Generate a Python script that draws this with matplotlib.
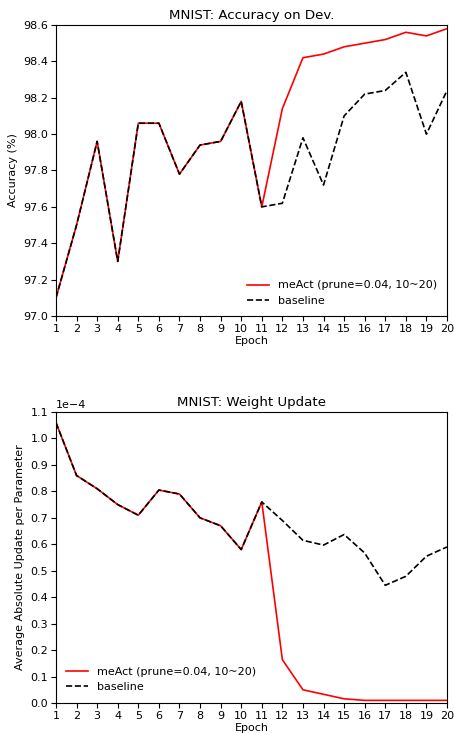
import matplotlib
matplotlib.use('Agg')
import matplotlib.pyplot as plt

epochs = list(range(1, 21))

# accuracy on dev (%)
acc_meact = [97.1, 97.5, 97.96, 97.3, 98.06, 98.06, 97.78, 97.94, 97.96, 98.18, 97.6,
             98.14, 98.42, 98.44, 98.48, 98.5, 98.52, 98.56, 98.54, 98.58]
acc_base = [97.1, 97.5, 97.96, 97.3, 98.06, 98.06, 97.78, 97.94, 97.96, 98.18, 97.6,
            97.62, 97.98, 97.72, 98.1, 98.22, 98.24, 98.34, 98.0, 98.24]

# weight update (x1e-4)
upd_meact = [1.06, 0.86, 0.81, 0.75, 0.71, 0.805, 0.79, 0.70, 0.67, 0.58, 0.76,
             0.164, 0.05, 0.033, 0.016, 0.01, 0.01, 0.01, 0.01, 0.01]
upd_base = [1.06, 0.86, 0.81, 0.75, 0.71, 0.805, 0.79, 0.70, 0.67, 0.58, 0.76,
            0.69, 0.615, 0.597, 0.637, 0.567, 0.445, 0.479, 0.555, 0.59]
upd_meact = [v * 1e-4 for v in upd_meact]
upd_base = [v * 1e-4 for v in upd_base]

label_meact = 'meAct (prune=0.04, 10~20)'
label_base = 'baseline'

plt.rcParams['font.size'] = 8

fig = plt.figure(figsize=(4.54, 7.33), dpi=100)
ax1 = fig.add_axes([0.1233, 0.5689, 0.8613, 0.397])
ax2 = fig.add_axes([0.1233, 0.0409, 0.8613, 0.397])

ax1.plot(epochs, acc_meact, color='red', lw=1.2, label=label_meact)
ax1.plot(epochs, acc_base, color='black', lw=1.2, ls='--', label=label_base)
ax1.set_xlim(1, 20)
ax1.set_ylim(97.0, 98.6)
ax1.set_xticks(epochs)
ax1.set_yticks([97.0, 97.2, 97.4, 97.6, 97.8, 98.0, 98.2, 98.4, 98.6])
ax1.set_xlabel('Epoch', labelpad=2)
ax1.set_ylabel('Accuracy (%)')
ax1.set_title('MNIST: Accuracy on Dev.', pad=4)
ax1.legend(loc='lower right', frameon=False, bbox_to_anchor=(1.0, 0.0))

ax2.plot(epochs, upd_meact, color='red', lw=1.2, label=label_meact)
ax2.plot(epochs, upd_base, color='black', lw=1.2, ls='--', label=label_base)
ax2.set_xlim(1, 20)
ax2.set_ylim(0, 1.1e-4)
ax2.set_xticks(epochs)
ax2.set_yticks([i * 1e-5 for i in range(12)])
ax2.ticklabel_format(axis='y', style='sci', scilimits=(0, 0))
ax2.set_xlabel('Epoch', labelpad=2)
ax2.set_ylabel('Average Absolute Update per Parameter')
ax2.set_title('MNIST: Weight Update', pad=4)
ax2.legend(loc='lower left', frameon=False, bbox_to_anchor=(0.0, 0.003))

for ax in (ax1, ax2):
    ax.tick_params(axis='both', length=3.5, pad=2)

fig.savefig('out.png', dpi=100)
